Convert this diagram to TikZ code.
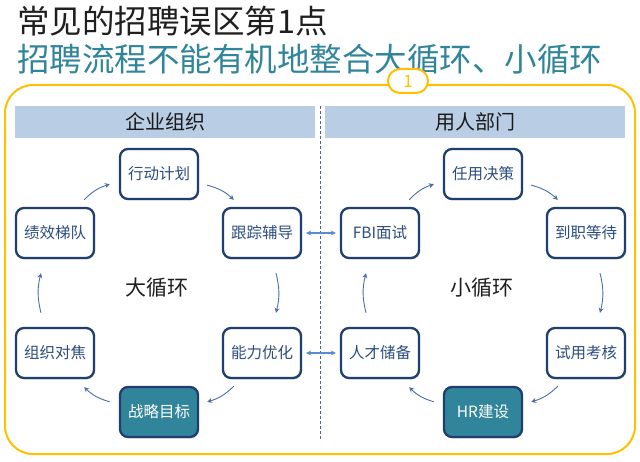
\documentclass[tikz,border=0pt]{standalone}
\usepackage{fontspec}
\setmainfont{Noto Sans CJK SC}
\usetikzlibrary{calc,shadows,arrows.meta}
\definecolor{teal1}{RGB}{49,133,155}
\definecolor{navy1}{RGB}{31,63,110}
\definecolor{boxtxt}{RGB}{44,77,127}
\definecolor{hdr}{RGB}{185,205,229}
\definecolor{gold1}{RGB}{255,192,0}
\definecolor{arr1}{RGB}{74,111,165}
\definecolor{arr2}{RGB}{91,139,208}
\begin{document}
\begin{tikzpicture}[x=1pt,y=-1pt,
  stepbox/.style={draw=navy1,line width=2.3pt,rounded corners=8pt,fill=white,
    minimum width=78pt,minimum height=50pt,inner sep=0pt,text=boxtxt,
    font=\fontsize{15.5}{18}\selectfont,
    drop shadow={shadow xshift=1pt,shadow yshift=-1.5pt,opacity=0.25}},
  keybox/.style={stepbox,fill=teal1,text=white},
  hdrbar/.style={fill=hdr,draw=none,minimum width=300pt,minimum height=32pt,inner sep=0pt,
    font=\fontsize{20}{23}\selectfont,text=black!90},
  loopar/.style={draw=arr1,line width=0.9pt,-{Stealth[length=5pt,width=5pt]},bend left=14},
  linkar/.style={draw=arr2,line width=1.1pt,{Stealth[length=5pt,width=5pt]}-{Stealth[length=5pt,width=5pt]}},
  centre/.style={font=\fontsize{21}{24}\selectfont,text=black!88}]
\useasboundingbox (0,0) rectangle (640,462);
% titles
\node[anchor=west,inner sep=0pt,text=black!88,font=\fontsize{32.5}{36}\selectfont] (t1) at (17,21) {常见的招聘误区第1点};
\node[anchor=west,inner sep=0pt,text=teal1,font=\fontsize{32.5}{36}\selectfont] (t2) at (17,59) {招聘流程不能有机地整合大循环、小循环};
% frame
\draw[gold1,line width=2pt,rounded corners=28pt] (5,85) rectangle (635,454);
\node[draw=gold1,line width=2pt,fill=white,rounded corners=12pt,minimum width=40pt,minimum height=24pt,inner sep=0pt,text=gold1,font=\fontsize{17}{20}\selectfont] (num) at (408,81) {1};
% headers
\node[hdrbar] (h1) at (165,122) {企业组织};
\node[hdrbar] (h2) at (475,122) {用人部门};
\coordinate (dtop) at (320,106);
\coordinate (dbot) at (320,440);
\draw[navy1!80,dashed,line width=0.7pt,dash pattern=on 3pt off 2pt] (dtop) -- (dbot);
% left loop
\node[stepbox] (xd) at (159,174) {行动计划};
\node[stepbox] (gz) at (262,233) {跟踪辅导};
\node[stepbox] (jx) at (55,233) {绩效梯队};
\node[stepbox] (zz) at (55,353) {组织对焦};
\node[stepbox] (nl) at (262,353) {能力优化};
\node[keybox] (zl) at (159,412) {战略目标};
\node[centre] (big) at (157,288) {大循环};
% right loop
\node[stepbox] (ry) at (483,174) {任用决策};
\node[stepbox] (dz) at (586,233) {到职等待};
\node[stepbox] (fbi) at (380,233) {FBI面试};
\node[stepbox] (rc) at (380,353) {人才储备};
\node[stepbox] (sy) at (586,353) {试用考核};
\node[keybox] (hr) at (483,412) {HR建设};
\node[centre] (small) at (482,288) {小循环};
% left loop arrows
\draw[loopar] ($(jx.north east)+(-11,-7)$) to ($(xd.south west)+(-9,-16)$);
\draw[loopar] ($(xd.south east)+(8,-15)$) to ($(gz.north west)+(12,-7)$);
\draw[loopar] ($(gz.south)+(14,14)$) to ($(nl.north)+(14,-14)$);
\draw[loopar] ($(nl.south west)+(12,7)$) to ($(zl.north east)+(8,16)$);
\draw[loopar] ($(zl.north west)+(-9,16)$) to ($(zz.south east)+(-11,8)$);
\draw[loopar] ($(zz.north)+(-14,-14)$) to ($(jx.south)+(-14,14)$);
% right loop arrows
\draw[loopar] ($(fbi.north east)+(-11,-7)$) to ($(ry.south west)+(-9,-16)$);
\draw[loopar] ($(ry.south east)+(8,-15)$) to ($(dz.north west)+(12,-7)$);
\draw[loopar] ($(dz.south)+(14,14)$) to ($(sy.north)+(14,-14)$);
\draw[loopar] ($(sy.south west)+(12,7)$) to ($(hr.north east)+(8,16)$);
\draw[loopar] ($(hr.north west)+(-9,16)$) to ($(rc.south east)+(-11,8)$);
\draw[loopar] ($(rc.north)+(-14,-14)$) to ($(fbi.south)+(-14,14)$);
% links
\draw[linkar,shorten <=4pt,shorten >=4pt] (gz.east) -- (fbi.west);
\draw[linkar,shorten <=4pt,shorten >=4pt] (nl.east) -- (rc.west);
\end{tikzpicture}
\end{document}
